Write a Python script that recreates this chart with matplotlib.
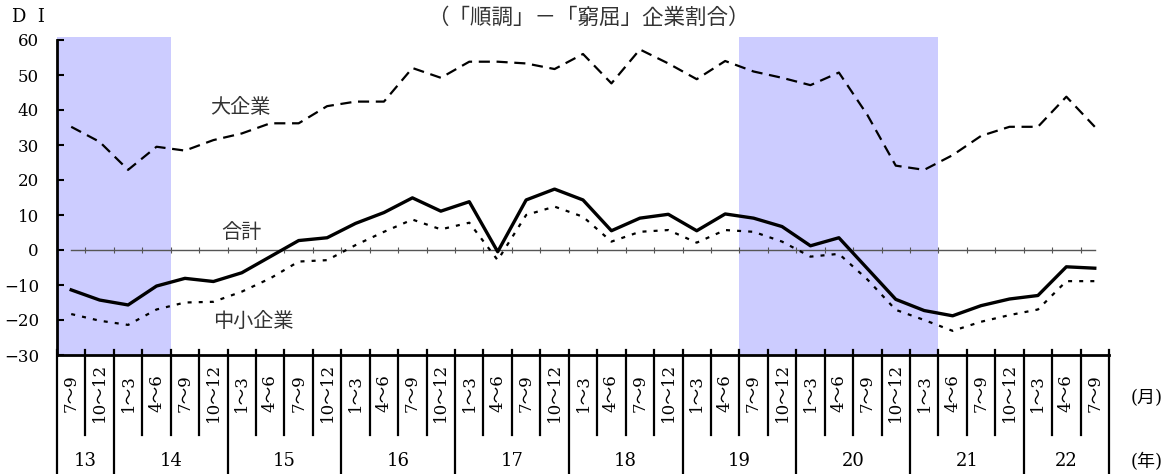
import matplotlib.pyplot as plt
import numpy as np

# quarter / year labels (2013 7-9 .. 2022 7-9)
quarters = ['7～9', '10～12', '1～3', '4～6']
quarter_labels = [quarters[i % 4] for i in range(37)]
years = ['13', '14', '15', '16', '17', '18', '19', '20', '21', '22']
year_counts = [2, 4, 4, 4, 4, 4, 4, 4, 4, 3]

# DI values
total = [-11.4, -14.3, -15.7, -10.3, -8.1, -9.0, -6.5, -1.9, 2.7, 3.5,
         7.6, 10.7, 14.9, 11.1, 13.8, -0.5, 14.3, 17.4, 14.3, 5.5,
         9.1, 10.2, 5.5, 10.3, 9.1, 6.7, 1.2, 3.5, -5.3, -14.1,
         -17.3, -18.8, -15.9, -14.0, -13.0, -4.8, -5.2]
large = [35.2, 30.9, 22.9, 29.5, 28.4, 31.4, 33.3, 36.2, 36.2, 41.1,
         42.4, 42.4, 52.0, 49.2, 53.8, 53.8, 53.3, 51.7, 56.0, 47.6,
         57.3, 53.3, 48.8, 54.0, 51.0, 49.2, 47.1, 50.7, 38.6, 24.1,
         22.9, 27.1, 32.6, 35.2, 35.2, 43.8, 35.2]
small = [-18.3, -20.2, -21.4, -17.0, -15.0, -14.8, -11.9, -8.1, -3.3, -2.9,
         1.4, 5.2, 8.7, 5.9, 7.8, -2.9, 10.0, 12.4, 9.5, 2.4,
         5.2, 5.7, 2.1, 5.7, 5.2, 2.4, -1.9, -1.1, -8.4, -17.1,
         -20.0, -23.1, -20.5, -18.6, -17.0, -8.9, -8.9]

# shaded periods, in quarter index units
shade_spans = [(0, 4), (24, 31)]

SERIF = ['DejaVu Serif', 'Noto Sans CJK JP']
JP = ['Noto Sans CJK JP', 'DejaVu Sans']

fig = plt.figure(figsize=(11.73, 4.74), dpi=100)
ax = fig.add_axes([57 / 1173, 119 / 474, 1052 / 1173, 318.5 / 474])

n = len(total)
x = np.arange(n) + 0.5

for a, b in shade_spans:
    ax.axvspan(a, b, color='#ccccff', lw=0, zorder=0)

# zero line with small boundary ticks
ax.plot([x[0], x[-1]], [0, 0], color='#555555', lw=1.0, zorder=1)
ax.plot(np.arange(1, n), np.zeros(n - 1), ls='none', marker='|',
        ms=4, mew=0.8, color='#555555', zorder=1)

ax.plot(x, large, color='black', lw=1.6, dashes=(5, 3), zorder=3)
ax.plot(x, small, color='black', lw=1.6, dashes=(1.8, 3.2), zorder=3)
ax.plot(x, total, color='black', lw=2.4, zorder=4)

ax.set_xlim(0, n)
ax.set_ylim(-30, 61)
ax.set_yticks(range(-30, 61, 10))
ax.set_yticklabels([str(v).replace('-', '−') for v in range(-30, 61, 10)],
                   family='DejaVu Serif', fontsize=12)
ax.tick_params(axis='y', direction='in', length=5, width=1.5, pad=13)
ax.set_xticks([])
for s in ['top', 'right']:
    ax.spines[s].set_visible(False)
ax.spines['left'].set_linewidth(2)
ax.spines['left'].set_bounds(-30, 60)
ax.spines['bottom'].set_linewidth(2)

# category table below the axis
tr = ax.get_xaxis_transform()
bounds = np.cumsum([0] + year_counts)
for b in range(n + 1):
    bottom = -0.374 if b in bounds else -0.251
    ax.plot([b, b], [0.016, bottom], color='black', lw=1.6,
            transform=tr, clip_on=False)
for i, lab in enumerate(quarter_labels):
    ax.text(i + 0.5, -0.119, lab, transform=tr, rotation=90,
            ha='center', va='center', fontsize=12, family=SERIF)
for i, y in enumerate(years):
    ax.text((bounds[i] + bounds[i + 1]) / 2, -0.334, y, transform=tr,
            ha='center', va='center', fontsize=13, family=SERIF)

fig.text(1147 / 1173, 1 - 398 / 474, '(月)', ha='center', va='center',
         fontsize=13, family=SERIF)
fig.text(1147 / 1173, 1 - 461.5 / 474, '(年)', ha='center', va='center',
         fontsize=13, family=SERIF)

# titles and series labels
fig.text(28 / 1173, 1 - 17 / 474, 'D  I', ha='center', va='center',
         fontsize=13, family='DejaVu Serif')
fig.text(588 / 1173, 1 - 18 / 474, '（「順調」－「窮屈」企業割合）',
         ha='center', va='center', fontsize=15.5, family=JP, color='#333333')

ax.text(6.45, 40.6, '大企業', ha='center', va='center', fontsize=14.5,
        family=JP, color='#333333')
ax.text(6.5, 4.9, '合計', ha='center', va='center', fontsize=14.5,
        family=JP, color='#333333')
ax.text(6.9, -20.5, '中小企業', ha='center', va='center', fontsize=14.5,
        family=JP, color='#333333')

fig.savefig('out.png', dpi=100)
